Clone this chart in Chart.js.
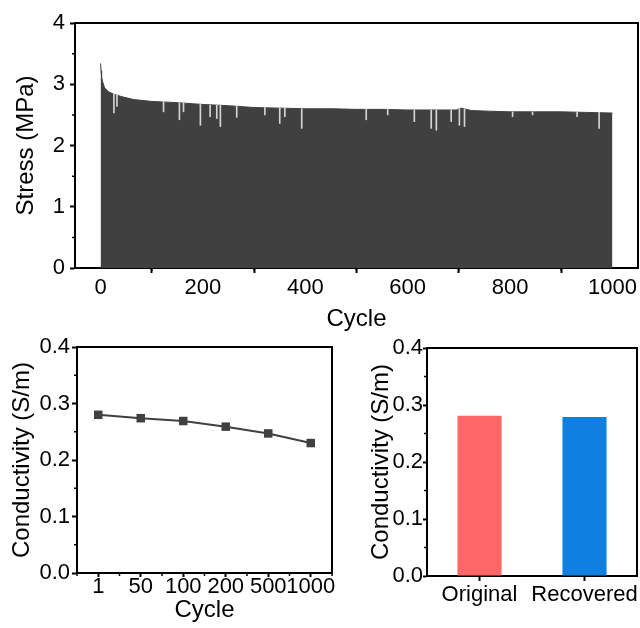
<!DOCTYPE html>
<html>
<head>
<meta charset="utf-8">
<script src="https://cdn.jsdelivr.net/npm/chart.js@4/dist/chart.umd.min.js"></script>
<style>
  body { margin: 0; background: #fff; }
  #wrap { position: relative; width: 640px; height: 628px; }
  canvas { position: absolute; }
</style>
</head>
<body>
<div id="wrap">
  <canvas id="stressChart" width="640" height="334" style="left:0;top:0"></canvas>
  <canvas id="cycleChart" width="345" height="298" style="left:0;top:330px"></canvas>
  <canvas id="barChart" width="295" height="298" style="left:345px;top:330px"></canvas>
</div>
<script>
// top panel: peak stress envelope per cycle
const stressCycle = [0, 1, 2, 4, 8, 15, 25, 40, 65, 100, 150, 200, 250, 300, 350, 400, 450, 500, 550, 600, 650, 695, 705, 725, 760, 800, 850, 900, 950, 1000];
const stressPeak = [3.34, 3.22, 3.12, 3.04, 2.94, 2.88, 2.84, 2.80, 2.75, 2.72, 2.70, 2.67, 2.65, 2.62, 2.61, 2.60, 2.60, 2.59, 2.59, 2.58, 2.58, 2.58, 2.61, 2.57, 2.56, 2.55, 2.55, 2.55, 2.54, 2.53];
// cycles where the peak dropped (light streaks)
const dipCycle = [26, 32, 123, 154, 162, 195, 214, 227, 234, 266, 321, 350, 360, 393, 519, 561, 613, 646, 656, 685, 701, 711, 805, 844, 931, 974];
const dipLow = [2.53, 2.64, 2.55, 2.42, 2.55, 2.33, 2.47, 2.44, 2.31, 2.46, 2.50, 2.36, 2.47, 2.28, 2.42, 2.50, 2.39, 2.28, 2.25, 2.39, 2.33, 2.31, 2.47, 2.50, 2.47, 2.28];
const dipTop = [2.84, 2.83, 2.72, 2.70, 2.70, 2.67, 2.66, 2.66, 2.66, 2.65, 2.62, 2.61, 2.61, 2.60, 2.59, 2.59, 2.58, 2.58, 2.58, 2.58, 2.60, 2.60, 2.55, 2.55, 2.55, 2.54];

// bottom left: conductivity after cycles
const cycleLabels = ["1", "50", "100", "200", "500", "1000"];
const cycleConductivity = [0.28, 0.274, 0.269, 0.259, 0.247, 0.23];

// bottom right: original vs recovered
const stateLabels = ["Original", "Recovered"];
const stateConductivity = [0.281, 0.279];
const stateColors = ["#ff6666", "#1080e0"];

Chart.defaults.font.family = 'Arial, "Liberation Sans", sans-serif';
Chart.defaults.color = "#000";
Chart.defaults.animation = false;

const framePlugin = {
  id: "frame",
  afterDraw(chart, args, opts) {
    const { ctx, chartArea: { left, top, right, bottom }, scales } = chart;
    ctx.save();
    ctx.strokeStyle = "#000";
    ctx.lineCap = "square";
    ctx.lineWidth = 2;
    ctx.beginPath();
    ctx.moveTo(left, top);
    ctx.lineTo(right, top);
    ctx.lineTo(right, bottom);
    ctx.stroke();
    ctx.lineCap = "butt";
    ctx.lineWidth = 1.5;
    ctx.beginPath();
    (opts.minorX || []).forEach((v) => {
      const px = scales.x.getPixelForValue(v);
      ctx.moveTo(px, bottom);
      ctx.lineTo(px, bottom + 3);
    });
    (opts.minorY || []).forEach((v) => {
      const py = scales.y.getPixelForValue(v);
      ctx.moveTo(left, py);
      ctx.lineTo(left - 3, py);
    });
    ctx.stroke();
    ctx.restore();
  },
};

const tickGrid = {
  drawOnChartArea: false,
  drawTicks: true,
  tickLength: 5,
  tickWidth: 2,
  tickColor: "#000",
};
const axisBorder = { display: true, color: "#000", width: 2 };
const tickFont = { size: 22 };
const titleFont = { size: 24 };

new Chart(document.getElementById("stressChart"), {
  type: "line",
  data: {
    datasets: [
      {
        type: "bar",
        data: dipCycle.map((c, i) => ({ x: c, y: [dipLow[i], dipTop[i]] })),
        backgroundColor: "#d4d4d4",
        barThickness: 1,
        order: 0,
      },
      {
        data: stressCycle.map((c, i) => ({ x: c, y: stressPeak[i] })),
        borderColor: "#404040",
        backgroundColor: "#404040",
        borderWidth: 1,
        pointRadius: 0,
        fill: "origin",
        order: 1,
      },
    ],
  },
  options: {
    responsive: false,
    layout: { padding: { top: 23, right: 2 } },
    plugins: {
      legend: { display: false },
      tooltip: { enabled: false },
      frame: { minorX: [100, 300, 500, 700, 900], minorY: [0.5, 1.5, 2.5, 3.5] },
    },
    scales: {
      x: {
        type: "linear",
        min: -50,
        max: 1050,
        offset: false,
        afterFit: (s) => { s.height = 66; },
        ticks: { stepSize: 200, includeBounds: false, font: tickFont, padding: 2, maxRotation: 0, callback: (v) => String(v) },
        grid: tickGrid,
        border: axisBorder,
        title: { display: true, text: "Cycle", font: titleFont, padding: { top: 0, bottom: 0 } },
      },
      y: {
        min: 0,
        max: 4,
        afterFit: (s) => { s.width = 75; },
        ticks: { stepSize: 1, font: tickFont, padding: 5 },
        grid: tickGrid,
        border: axisBorder,
        title: { display: true, text: "Stress (MPa)", font: titleFont, padding: { top: 12, bottom: 0 } },
      },
    },
  },
  plugins: [framePlugin],
});

new Chart(document.getElementById("cycleChart"), {
  type: "line",
  data: {
    labels: cycleLabels,
    datasets: [
      {
        data: cycleConductivity,
        borderColor: "#404040",
        backgroundColor: "#404040",
        borderWidth: 2,
        pointStyle: "rect",
        pointRadius: 6,
        pointBorderWidth: 0,
      },
    ],
  },
  options: {
    responsive: false,
    layout: { padding: { top: 17, right: 13 } },
    plugins: {
      legend: { display: false },
      tooltip: { enabled: false },
      frame: { minorX: [-0.5, 0.5, 1.5, 2.5, 3.5, 4.5, 5.5], minorY: [0.05, 0.15, 0.25, 0.35] },
    },
    scales: {
      x: {
        offset: true,
        afterFit: (s) => { s.height = 55; },
        ticks: { font: tickFont, padding: -3, maxRotation: 0, autoSkip: false },
        grid: { ...tickGrid, tickLength: 4, offset: false },
        border: axisBorder,
        title: { display: true, text: "Cycle", font: titleFont, padding: { top: 0, bottom: 3 } },
      },
      y: {
        min: 0,
        max: 0.4,
        afterFit: (s) => { s.width = 77; },
        ticks: { stepSize: 0.1, font: tickFont, padding: 2, callback: (v) => v.toFixed(1) },
        grid: tickGrid,
        border: axisBorder,
        title: { display: true, text: "Conductivity (S/m)", font: titleFont, padding: { top: 8, bottom: 0 } },
      },
    },
  },
  plugins: [framePlugin],
});

new Chart(document.getElementById("barChart"), {
  type: "bar",
  data: {
    labels: stateLabels,
    datasets: [
      {
        data: stateConductivity,
        backgroundColor: stateColors,
        categoryPercentage: 1,
        barPercentage: 0.42,
      },
    ],
  },
  options: {
    responsive: false,
    layout: { padding: { top: 18, right: 3 } },
    plugins: {
      legend: { display: false },
      tooltip: { enabled: false },
      frame: { minorY: [0.05, 0.15, 0.25, 0.35] },
    },
    scales: {
      x: {
        afterFit: (s) => { s.height = 52; },
        ticks: { font: tickFont, padding: 1, maxRotation: 0, autoSkip: false },
        grid: { ...tickGrid, offset: false },
        border: axisBorder,
      },
      y: {
        min: 0,
        max: 0.4,
        afterFit: (s) => { s.width = 82; },
        ticks: { stepSize: 0.1, font: tickFont, padding: 0, callback: (v) => v.toFixed(1) },
        grid: { ...tickGrid, tickLength: 4 },
        border: axisBorder,
        title: { display: true, text: "Conductivity (S/m)", font: titleFont, padding: { top: 22, bottom: 0 } },
      },
    },
  },
  plugins: [framePlugin],
});
</script>
</body>
</html>
